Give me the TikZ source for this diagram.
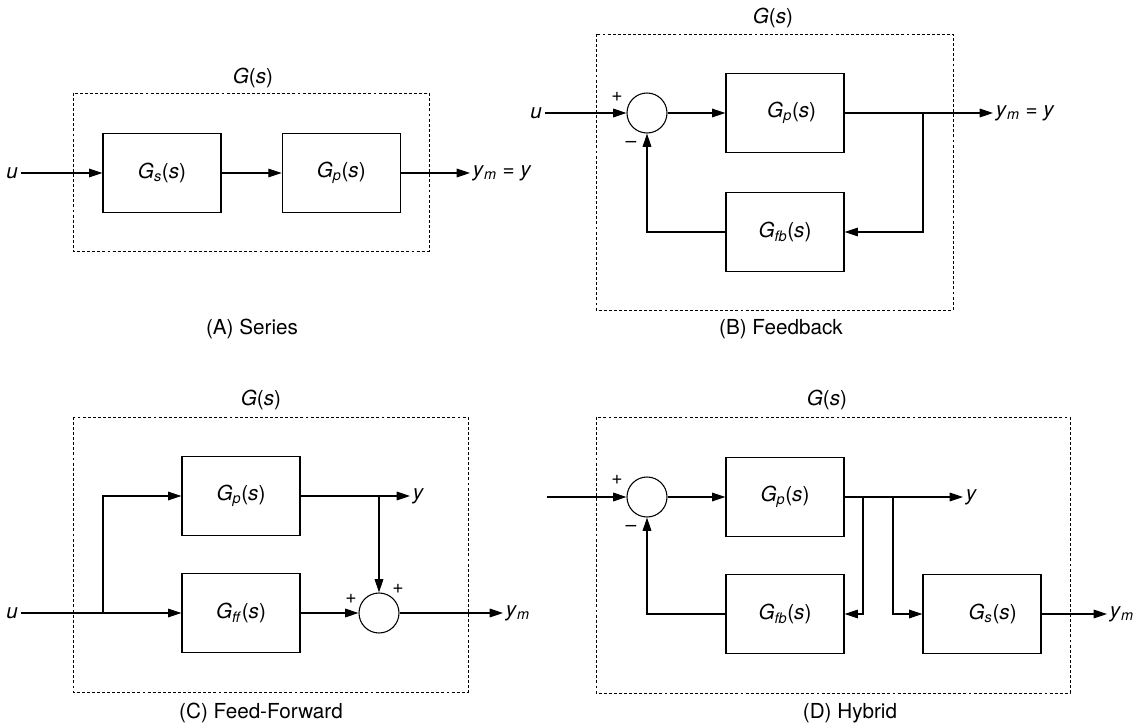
\documentclass[tikz,border=0pt]{standalone}
\usepackage{fontspec}
\setmainfont{TeX Gyre Heros}
\usetikzlibrary{arrows.meta,positioning}

\newcommand{\tfn}[1]{\textit{G}\textsubscript{\textit{#1}}(\textit{s})}
\newcommand{\tfall}{\textit{G}(\textit{s})}
\newcommand{\ymeas}{\textit{y}\textsubscript{\textit{m}}}

\tikzset{
  block/.style={
    draw=black,
    line width=0.9pt,
    minimum width=88.5pt,
    minimum height=59pt,
    inner sep=0pt,
    font=\fontsize{15.5}{18}\selectfont
  },
  sumjn/.style={draw, circle, line width=0.8pt, minimum size=30pt, inner sep=0pt},
  groupbox/.style={draw, line width=0.7pt, dash pattern=on 2.2pt off 1.6pt},
  sig/.style={-{Triangle[length=10pt,width=6.5pt]}, line width=0.8pt},
  lbl/.style={font=\fontsize{15.5}{18}\selectfont, inner sep=2pt},
  sgn/.style={font=\fontsize{14.5}{16}\selectfont, inner sep=0pt},
  subcap/.style={font=\fontsize{15.5}{18}\selectfont, inner sep=0pt}
}

\begin{document}
\begin{tikzpicture}[x=0.75pt, y=-0.75pt]
\useasboundingbox (0,0) rectangle (1140,724);

% (A) Series
\draw[groupbox] (73,93) rectangle (429,251);
\node[lbl] (gA) at (253,78) {\tfall};
\node[block] (gsA) at (162,173) {\tfn{s}};
\node[block, right=45pt of gsA] (gpA) {\tfn{p}};
\node[lbl] (uA) at (12,173) {\textit{u}};
\node[lbl, anchor=west] (yA) at (470,173) {\ymeas{} = \textit{y}};
\node[subcap] (capA) at (252,329) {(A) Series};
\draw[sig] (uA) -- (gsA);
\draw[sig] (gsA) -- (gpA);
\draw[sig] (gpA) -- (yA);

% (B) Feedback
\draw[groupbox] (596,34) rectangle (953,310);
\node[lbl] (gB) at (773,18) {\tfall};
\node[sumjn] (sumB) at (647,113) {};
\node[block] (gpB) at (785,113) {\hspace*{10pt}\tfn{p}};
\node[block] (gfbB) at (785,232) {\tfn{fb}};
\node[lbl] (uB) at (536,113) {\textit{u}};
\node[lbl, anchor=west] (yB) at (993,113) {\ymeas{} = \textit{y}};
\coordinate (brB) at (923,113);
\node[sgn] (plusB) at (617,97) {+};
\node[sgn] (minusB) at (631,144) {–};
\node[subcap] (capB) at (781,329) {(B) Feedback};
\draw[sig] (uB) -- (sumB);
\draw[sig] (sumB) -- (gpB);
\draw[sig] (gpB) -- (yB);
\draw[sig] (brB) |- (gfbB);
\draw[sig] (gfbB) -| (sumB);

% (C) Feed-Forward
\draw[groupbox] (73,417) rectangle (468,692);
\node[lbl] (gC) at (261,400) {\tfall};
\node[block] (gpC) at (241,496) {\tfn{p}};
\node[block] (gffC) at (241,613) {\tfn{ff}};
\node[sumjn] (sumC) at (379,613) {};
\node[lbl] (uC) at (12,613) {\textit{u}};
\node[lbl, anchor=west] (yC) at (410,496) {\textit{y}};
\node[lbl, anchor=west] (ymC) at (503,613) {\ymeas};
\coordinate (brC) at (103,613);
\coordinate (tapC) at (379,496);
\node[sgn] (plusC1) at (351,599) {+};
\node[sgn] (plusC2) at (398,589) {+};
\node[subcap] (capC) at (261,713) {(C) Feed-Forward};
\draw[sig] (uC) -- (gffC);
\draw[sig] (brC) |- (gpC);
\draw[sig] (gpC) -- (yC);
\draw[sig] (tapC) -- (sumC);
\draw[sig] (gffC) -- (sumC);
\draw[sig] (sumC) -- (ymC);

% (D) Hybrid
\draw[groupbox] (596,417) rectangle (1070,693);
\node[lbl] (gD) at (827,400) {\tfall};
\node[sumjn] (sumD) at (647,497) {};
\node[block] (gpD) at (785,497) {\tfn{p}};
\node[block] (gfbD) at (785,614) {\tfn{fb}};
\node[block] (gsD) at (982,614) {\hspace*{16pt}\tfn{s}};
\coordinate (inD) at (547,497);
\coordinate (brD1) at (863,497);
\coordinate (brD2) at (893,497);
\node[lbl, anchor=west] (yD) at (963,497) {\textit{y}};
\node[lbl, anchor=west] (ymD) at (1107,614) {\ymeas};
\node[sgn] (plusD) at (617,480) {+};
\node[sgn] (minusD) at (631,528) {–};
\node[subcap] (capD) at (850,713) {(D) Hybrid};
\draw[sig] (inD) -- (sumD);
\draw[sig] (sumD) -- (gpD);
\draw[sig] (gpD) -- (yD);
\draw[sig] (brD1) |- (gfbD);
\draw[sig] (brD2) |- (gsD);
\draw[sig] (gfbD) -| (sumD);
\draw[sig] (gsD) -- (ymD);

\end{tikzpicture}
\end{document}
